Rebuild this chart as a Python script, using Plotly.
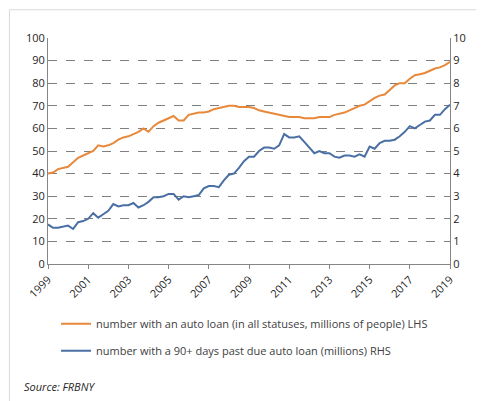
import plotly.graph_objects as go

years = list(range(1999, 2020))
loan_lhs = [40, 40.5, 42, 42.5, 43, 45, 47, 48,
            49, 50, 52.5, 52, 52.5, 53.5, 55, 56,
            56.5, 57.5, 58.5, 60, 58.5, 61, 62.5, 63.5,
            64.5, 65.5, 63.5, 63.5, 66, 66.5, 67, 67,
            67.5, 68.5, 69, 69.5, 70, 70, 69.5, 69.5,
            69.5, 69, 68, 67.5, 67, 66.5, 66, 65.5,
            65, 65, 65, 64.5, 64.5, 64.5, 65, 65,
            65, 66, 66.5, 67, 68, 69, 70, 70.5,
            72, 73.5, 74.5, 75, 77, 79, 80, 80,
            82, 83.5, 84, 84.5, 85.5, 86.5, 87, 88,
            89.5]
past_due_rhs = [1.75, 1.6, 1.6, 1.65, 1.7, 1.55, 1.85, 1.9,
                2.0, 2.25, 2.05, 2.2, 2.35, 2.65, 2.55, 2.6,
                2.6, 2.7, 2.5, 2.6, 2.75, 2.95, 2.95, 3.0,
                3.1, 3.1, 2.85, 3.0, 2.95, 3.0, 3.05, 3.35,
                3.45, 3.45, 3.4, 3.7, 3.95, 4.0, 4.25, 4.55,
                4.75, 4.75, 5.0, 5.15, 5.15, 5.1, 5.25, 5.75,
                5.6, 5.6, 5.65, 5.4, 5.15, 4.9, 5.0, 4.9,
                4.9, 4.75, 4.7, 4.8, 4.8, 4.75, 4.85, 4.75,
                5.2, 5.1, 5.35, 5.45, 5.45, 5.5, 5.65, 5.85,
                6.1, 6.0, 6.15, 6.3, 6.35, 6.6, 6.6, 6.85,
                7.05]
x = [1999 + i / 4 for i in range(len(loan_lhs))]

fig = go.Figure()
fig.add_trace(go.Scatter(x=x, y=loan_lhs, mode="lines", line=dict(color="#E8883A", width=2),
                         name="number with an auto loan (in all statuses, millions of people) LHS",
                         legendgroup="a"))
fig.add_trace(go.Scatter(x=x, y=past_due_rhs, mode="lines", line=dict(color="#4A6FA5", width=2),
                         name="number with a 90+ days past due auto loan (millions) RHS",
                         yaxis="y2", legendgroup="b"))

fig.update_layout(
    width=484, height=401, margin=dict(l=40, r=42, t=30, b=145),
    paper_bgcolor="white", plot_bgcolor="white",
    font=dict(family="Open Sans", size=11, color="#262626"),
    xaxis=dict(range=[1999, 2019], tickvals=years[::2], ticktext=[str(y) for y in years[::2]],
               tickangle=-45, showgrid=False, showline=True, linecolor="#868686",
               ticks="outside", ticklen=4, tickcolor="#868686", zeroline=False),
    yaxis=dict(range=[0, 100], dtick=10, showgrid=True, gridcolor="#808080", griddash="dash",
               showline=True, linecolor="#868686", zeroline=False),
    yaxis2=dict(range=[0, 10], dtick=1, overlaying="y", side="right", showgrid=False,
                showline=True, linecolor="#868686", zeroline=False),
    legend=dict(x=0.02, y=-0.2, xanchor="left", yanchor="top", tracegroupgap=8,
                font=dict(size=11, color="#404040")),
    annotations=[dict(text="<i>Source: FRBNY</i>", xref="paper", yref="paper", x=-0.065, y=-0.54,
                      xanchor="left", yanchor="middle", showarrow=False, font=dict(size=11))],
    shapes=[dict(type="rect", xref="paper", yref="paper", x0=-0.096, x1=1.1, y0=-0.635, y1=1.125,
                 line=dict(color="#D9D9D9", width=1))],
)
fig.write_html("out.html")
